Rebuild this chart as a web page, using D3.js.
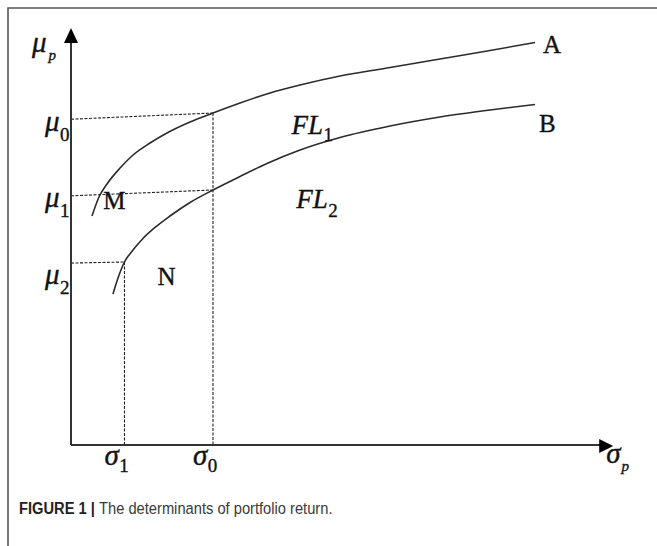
<!DOCTYPE html>
<html>
<head>
<meta charset="utf-8">
<script src="https://cdn.jsdelivr.net/npm/d3@7.9.0/dist/d3.min.js"></script>
<style>
  body { margin: 0; background: #fff; }
  .serif { font-family: "Liberation Serif", "Times New Roman", serif; fill: #111; stroke: #111; stroke-width: 0.35px; }
  .caption { font-family: "Liberation Sans", Arial, sans-serif; font-size: 17px; fill: #3a3a3a; }
</style>
</head>
<body>
<svg id="chart" width="657" height="546"></svg>
<script>
// frontier A (upper curve), sigma_p / mu_p in chart units
const sigmaA = [3.96, 5.28, 6.79, 9.25, 11.70, 14.91, 18.11, 22.45, 26.79, 31.89, 37.55, 43.21, 50.75, 60.19, 69.62, 79.06, 87.55];
const muA    = [43.93, 47.58, 50.07, 53.13, 55.64, 57.94, 59.86, 61.97, 63.69, 65.61, 67.53, 69.06, 70.79, 72.42, 74.05, 75.68, 77.22];

// frontier B (lower curve)
const sigmaB = [7.92, 8.87, 10.09, 11.70, 13.58, 15.85, 18.68, 22.45, 26.79, 31.89, 36.98, 43.21, 50.75, 60.19, 69.62, 79.06, 87.55];
const muB    = [28.97, 32.04, 35.11, 37.41, 39.62, 41.73, 43.93, 46.52, 48.92, 51.51, 54.00, 56.59, 58.99, 61.20, 62.93, 64.27, 65.32];

// dashed guides: from mu axis to a point on a frontier
const guideMuAxis = [62.5, 47.8, 34.9];
const guideSigma  = [26.79, 26.79, 10.09];
const guideMu     = [63.69, 48.92, 35.11];
const muSubs      = ['0', '1', '2'];

// dashed drops to the sigma axis
const dropSigma = [26.79, 10.09];
const dropMu    = [63.69, 35.11];
const sigmaSubs = ['0', '1'];

const sigmaMax = 102.3;
const muMax = 80;

const svg = d3.select('#chart');

let x = d3.scaleLinear().domain([0, 100]).range([71, 601]);
let y = d3.scaleLinear().domain([0, 80]).range([445, 28]);

// frame (top + left edge of the figure box)
svg.append('path')
  .attr('d', 'M8,546 L8,8 L657,8')
  .attr('fill', 'none')
  .attr('stroke', '#555')
  .attr('stroke-width', 1.6);

// dashed guides
guideMuAxis.forEach((m, i) => {
  svg.append('line')
    .attr('x1', x(0)).attr('y1', y(m))
    .attr('x2', x(guideSigma[i])).attr('y2', y(guideMu[i]))
    .attr('stroke', '#222').attr('stroke-width', 1.1)
    .attr('stroke-dasharray', '3,1.5');
});
dropSigma.forEach((s, i) => {
  svg.append('line')
    .attr('x1', x(s)).attr('y1', y(dropMu[i]))
    .attr('x2', x(s)).attr('y2', y(0))
    .attr('stroke', '#222').attr('stroke-width', 1.1)
    .attr('stroke-dasharray', '3,1.5');
});

// frontiers
let line = d3.line()
  .x(d => x(d[0]))
  .y(d => y(d[1]))
  .curve(d3.curveMonotoneX);

[[sigmaA, muA], [sigmaB, muB]].forEach(([ss, ms]) => {
  svg.append('path')
    .attr('d', line(ss.map((s, i) => [s, ms[i]])))
    .attr('fill', 'none')
    .attr('stroke', '#2b2b2b')
    .attr('stroke-width', 1.6);
});

// axes with arrow heads
svg.append('line')
  .attr('x1', x(0)).attr('y1', y(0))
  .attr('x2', x(0)).attr('y2', y(muMax) + 10)
  .attr('stroke', '#333').attr('stroke-width', 2);
svg.append('line')
  .attr('x1', x(0)).attr('y1', y(0))
  .attr('x2', x(sigmaMax) - 10).attr('y2', y(0))
  .attr('stroke', '#333').attr('stroke-width', 2);

svg.append('path')
  .attr('d', `M${x(0)},${y(muMax)} L${x(0) - 7},${y(muMax) + 15} L${x(0) + 7},${y(muMax) + 15} Z`)
  .attr('fill', '#000');
svg.append('path')
  .attr('d', `M${x(sigmaMax)},${y(0) + 1} L${x(sigmaMax) - 14},${y(0) - 6} L${x(sigmaMax) - 14},${y(0) + 8} Z`)
  .attr('fill', '#000');

// helper for symbol with subscript
function symbol(px, py, main, sub, opts = {}) {
  let t = svg.append('text')
    .attr('class', 'serif')
    .attr('x', px).attr('y', py)
    .attr('font-size', opts.size || 29)
    .attr('font-style', opts.italic === false ? 'normal' : 'italic');
  t.append('tspan').text(main);
  if (sub) {
    t.append('tspan')
      .attr('font-size', opts.subSize || 19)
      .attr('font-style', opts.subItalic ? 'italic' : 'normal')
      .attr('dx', opts.subDx || 0)
      .attr('dy', opts.subDy || 9)
      .text(sub);
  }
  return t;
}

// axis titles
symbol(x(0) - 39, y(muMax) + 24, 'μ', 'p', { subItalic: true, subSize: 15, subDx: 2, subDy: 8 });
symbol(x(sigmaMax) - 7, y(0) + 18, 'σ', 'p', { subItalic: true, subSize: 15, subDx: 1, subDy: 8 });

// mu labels
const muLabelDy = [12, 11, 21];
guideMuAxis.forEach((m, i) => {
  symbol(x(0) - 26, y(m) + muLabelDy[i], 'μ', muSubs[i], { subDy: 10, subDx: 0.5 });
});

// sigma labels
dropSigma.forEach((s, i) => {
  symbol(x(s) - 20, y(0) + 20, 'σ', sigmaSubs[i], { subDy: 7, subDx: 0.5 });
});

// frontier labels
symbol(x(sigmaA[sigmaA.length - 1]) + 8, y(muA[muA.length - 1]) + 11, 'A', null, { italic: false, size: 25 });
symbol(x(sigmaB[sigmaB.length - 1]) + 4, y(muB[muB.length - 1]) + 27, 'B', null, { italic: false, size: 25 });
symbol(x(6.1), y(muB[2]) - 53, 'M', null, { italic: false, size: 25 });
symbol(x(16.3), y(muB[2]) + 23, 'N', null, { italic: false, size: 25 });
symbol(x(41.6), y(59.6), 'FL', '1', { size: 27, subDy: 7, subDx: 0.5 });
symbol(x(42.5), y(45.5), 'FL', '2', { size: 27, subDy: 9, subDx: 0.5 });

// caption (condensed face approximated with a horizontal squeeze)
let cap = svg.append('text').attr('class', 'caption')
  .attr('transform', 'translate(19,514) scale(0.865,1)');
cap.append('tspan').attr('font-weight', 'bold').attr('fill', '#222').text('FIGURE 1 | ');
cap.append('tspan').text('The determinants of portfolio return.');
</script>
</body>
</html>
